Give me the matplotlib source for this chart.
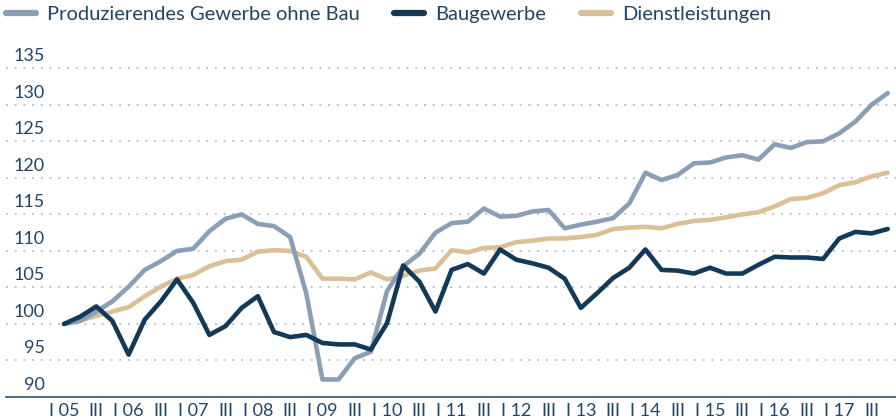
import matplotlib
matplotlib.use('Agg')
import matplotlib.pyplot as plt
import matplotlib.transforms as mtransforms
import numpy as np

# quarterly index, Q1 2005 = 100
years = ['05', '06', '07', '08', '09', '10', '11', '12', '13', '14', '15', '16', '17']

produzierendes = [100.0, 100.4, 101.7, 103.1, 105.1, 107.4, 108.6, 110.0, 110.3, 112.7,
                  114.4, 115.0, 113.7, 113.4, 111.9, 104.2, 92.4, 92.4, 95.3, 96.2,
                  104.5, 107.9, 109.6, 112.5, 113.8, 114.0, 115.8, 114.7, 114.8, 115.4,
                  115.6, 113.1, 113.6, 114.0, 114.5, 116.5, 120.7, 119.7, 120.4, 122.0,
                  122.1, 122.8, 123.1, 122.5, 124.6, 124.1, 124.9, 125.0, 126.1, 127.7,
                  130.0, 131.6]

baugewerbe = [100.0, 101.0, 102.4, 100.4, 95.8, 100.6, 103.1, 106.1, 102.9, 98.5,
              99.7, 102.2, 103.8, 98.9, 98.2, 98.5, 97.4, 97.2, 97.2, 96.5,
              100.1, 108.0, 105.8, 101.7, 107.4, 108.2, 106.9, 110.2, 108.8, 108.3,
              107.7, 106.2, 102.2, 104.2, 106.3, 107.7, 110.2, 107.4, 107.3, 106.9,
              107.7, 106.9, 106.9, 108.1, 109.2, 109.1, 109.1, 108.9, 111.7, 112.6,
              112.4, 113.0]

dienstleistungen = [100.0, 100.45, 101.1, 101.7, 102.3, 103.8, 105.1, 106.2, 106.7, 107.9,
                    108.6, 108.8, 109.9, 110.1, 110.0, 109.2, 106.2, 106.2, 106.1, 107.05,
                    106.1, 106.6, 107.3, 107.6, 110.1, 109.8, 110.4, 110.5, 111.2, 111.4,
                    111.7, 111.7, 111.9, 112.2, 113.0, 113.2, 113.3, 113.1, 113.7, 114.1,
                    114.25, 114.6, 115.0, 115.3, 116.1, 117.1, 117.25, 117.9, 119.0, 119.4,
                    120.2, 120.7]

yticks = [95, 100, 105, 110, 115, 120, 125, 130, 135]

c_light = '#8a9fb7'
c_navy = '#113a5a'
c_tan = '#dbc095'
c_text = '#1f4569'

plt.rcParams['font.family'] = ['Lato', 'DejaVu Sans']

fig = plt.figure(figsize=(8.96, 4.2), dpi=100)
ax = fig.add_axes([6 / 896, 23 / 420, 890 / 896, (397 - 53.7) / 420])

x = np.arange(len(produzierendes))
ax.plot(x, dienstleistungen, color=c_tan, lw=3.3, solid_capstyle='round',
        solid_joinstyle='round', label='Dienstleistungen', zorder=3)
ax.plot(x, produzierendes, color=c_light, lw=3.3, solid_capstyle='round',
        solid_joinstyle='round', label='Produzierendes Gewerbe ohne Bau', zorder=4)
ax.plot(x, baugewerbe, color=c_navy, lw=3.3, solid_capstyle='round',
        solid_joinstyle='round', label='Baugewerbe', zorder=5)

ax.set_xlim(-58 / 16.15, 51 + 8.3 / 16.15)
ax.set_ylim(90, 137)

for v in yticks:
    ax.axhline(v, color='#9fb1c6', lw=1.1, linestyle=(0, (1.2, 4.5)), zorder=1)

# y labels sit above their gridlines
trans = mtransforms.blended_transform_factory(ax.transAxes, ax.transData)
trans = mtransforms.offset_copy(trans, fig=fig, x=0, y=3, units='points')
for v in [90] + yticks:
    ax.text((45 - 6) / 890, v, str(v), transform=trans, ha='right', va='bottom',
            fontsize=13, color=c_text)

ax.set_yticks([])
ticks = []
labels = []
for i, yy in enumerate(years):
    ticks += [4 * i, 4 * i + 2]
    labels += ['I ' + yy, 'III']
ax.set_xticks(ticks)
ax.set_xticklabels(labels, fontsize=13, color=c_text)
ax.tick_params(axis='x', length=0, pad=4)

for s in ['top', 'right', 'left']:
    ax.spines[s].set_visible(False)
ax.spines['bottom'].set_color('#2e5070')
ax.spines['bottom'].set_linewidth(1.2)

h, l = ax.get_legend_handles_labels()
order = [1, 2, 0]
leg = fig.legend([h[k] for k in order], [l[k] for k in order], ncol=3,
                 loc='upper left', bbox_to_anchor=(6 / 896, 0.985), frameon=False,
                 fontsize=14.5, handlelength=1.5, handletextpad=0.55,
                 columnspacing=1.7, borderaxespad=0, borderpad=0)
for t in leg.get_texts():
    t.set_color(c_text)
for ln in leg.get_lines():
    ln.set_linewidth(4.5)

fig.savefig('out.png', dpi=100)
